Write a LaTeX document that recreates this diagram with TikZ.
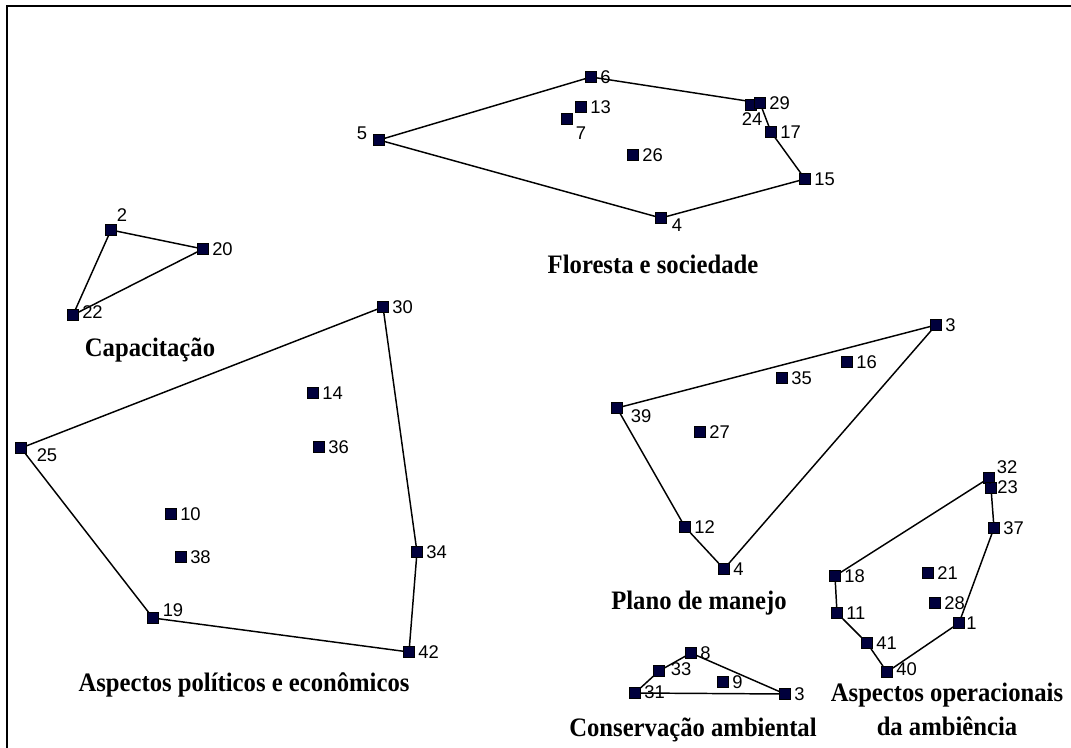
\documentclass[tikz,border=0pt]{standalone}
\usepackage{fontspec}
\usepackage{graphicx}
\setmainfont{Liberation Serif}
\newfontfamily\numfont{Liberation Sans}
\usetikzlibrary{calc}
\definecolor{marknavy}{RGB}{0,0,60}
\tikzset{
  mk/.style={rectangle,draw=black,line width=0.4pt,fill=marknavy,
             minimum width=8.25pt,minimum height=8.25pt,inner sep=0pt},
  lbl/.style={inner sep=0pt,font=\numfont\fontsize{13.8}{15}\selectfont},
  hull/.style={line width=1.1pt,black},
  grp/.style={inner sep=0pt,
              font=\fontsize{18.5}{23}\selectfont\bfseries},
  frame/.style={line width=2pt,black}
}
% group title, slightly taller than wide
\newcommand\grptext[1]{\scalebox{1}[1.08]{#1}}
% point with its number to the right
\newcommand\rpt[3]{%
  \node[mk] (#1) at (#2) {};
  \node[lbl,anchor=west] (#1-l) at ($(#1)+(9,0)$) {#3};}
% point with its number centred at a given offset
\newcommand\opt[4]{%
  \node[mk] (#1) at (#2) {};
  \node[lbl] (#1-l) at ($(#1)+(#3)$) {#4};}
\begin{document}
\begin{tikzpicture}[x=0.75pt,y=-0.75pt]
\useasboundingbox (0,0) rectangle (1071,748);
\coordinate (fbl) at (7,748);
\coordinate (ftl) at (7,6);
\coordinate (ftr) at (1071,6);
\draw[frame] (fbl) -- (ftl) -- (ftr);

% ---------- Floresta e sociedade
\coordinate (fA6c) at (591,77);
\coordinate (fA29c) at (760,103);
\coordinate (fA17c) at (771,132);
\coordinate (fA15c) at (805,179);
\coordinate (fA4c) at (661,218);
\coordinate (fA5c) at (379,140);
\draw[hull] (fA5c) -- (fA6c) -- (fA29c) -- (fA17c) -- (fA15c) -- (fA4c) -- cycle;
\rpt{fA6}{591,77}{6}
\rpt{fA13}{581,107}{13}
\opt{fA7}{567,119}{14,14}{7}
\opt{fA5}{379,140}{-17,-7}{5}
\rpt{fA26}{633,155}{26}
\opt{fA24}{751,105}{1,14}{24}
\rpt{fA29}{760,103}{29}
\rpt{fA17}{771,132}{17}
\rpt{fA15}{805,179}{15}
\opt{fA4}{661,218}{16,7}{4}
\node[grp] (tA) at (653,264) {\grptext{Floresta e sociedade}};

% ---------- Capacitação
\opt{cB2}{111,230}{11,-15}{2}
\rpt{cB20}{203,249}{20}
\node[mk] (cB22) at (73,315) {};
\node[lbl,anchor=west] (cB22-l) at (82,312) {22};
\draw[hull] (cB2) -- (cB20) -- (cB22) -- (cB2);
\node[grp] (tB) at (150,350) {\grptext{Capacitação}};

% ---------- Aspectos políticos e econômicos
\rpt{pC30}{383,307}{30}
\rpt{pC14}{313,393}{14}
\opt{pC25}{21,448}{26,7}{25}
\rpt{pC36}{319,447}{36}
\rpt{pC10}{171,514}{10}
\rpt{pC38}{181,557}{38}
\rpt{pC34}{417,552}{34}
\opt{pC19}{153,618}{20,-8}{19}
\rpt{pC42}{409,652}{42}
\draw[hull] (pC25) -- (pC30) -- (pC34) -- (pC42) -- (pC19) -- (pC25);
\node[grp] (tC) at (244,685) {\grptext{Aspectos políticos e econômicos}};

% ---------- Plano de manejo
\rpt{mD3}{936,325}{3}
\rpt{mD16}{847,362}{16}
\rpt{mD35}{782,378}{35}
\opt{mD39}{617,408}{24,8}{39}
\rpt{mD27}{700,432}{27}
\rpt{mD12}{685,527}{12}
\rpt{mD4}{724,569}{4}
\draw[hull] (mD39) -- (mD3) -- (mD4) -- (mD12) -- (mD39);
\node[grp] (tD) at (699,603) {\grptext{Plano de manejo}};

% ---------- Aspectos operacionais da ambiência
\opt{oE32}{989,478}{18,-11}{32}
\node[mk] (oE23) at (991,488) {};
\node[lbl,anchor=west] (oE23-l) at (997,487) {23};
\rpt{oE37}{994,528}{37}
\rpt{oE18}{835,576}{18}
\rpt{oE21}{928,573}{21}
\rpt{oE28}{935,603}{28}
\rpt{oE11}{837,613}{11}
\node[mk] (oE1) at (959,623) {};
\node[lbl,anchor=west] (oE1-l) at (966,623) {1};
\rpt{oE41}{867,643}{41}
\node[mk] (oE40) at (887,672) {};
\node[lbl,anchor=west] (oE40-l) at (896,669) {40};
\draw[hull] (oE18) -- (oE32) -- (oE23) -- (oE37) -- (oE1) -- (oE40) -- (oE41) -- (oE11) -- (oE18);
\node[grp] (tE1) at (947,695) {\grptext{Aspectos operacionais}};
\node[grp] (tE2) at (947,726) {\grptext{da ambiência}};

% ---------- Conservação ambiental
\rpt{aF8}{691,653}{8}
\opt{aF33}{659,671}{22,-2}{33}
\rpt{aF9}{723,682}{9}
\node[mk] (aF31) at (635,693) {};
\node[lbl,anchor=west] (aF31-l) at (644,692) {31};
\rpt{aF3}{785,694}{3}
\draw[hull] (aF31) -- (aF33) -- (aF8) -- (aF3) -- (aF31);
\node[grp] (tF) at (693,730) {\grptext{Conservação ambiental}};
\end{tikzpicture}
\end{document}
